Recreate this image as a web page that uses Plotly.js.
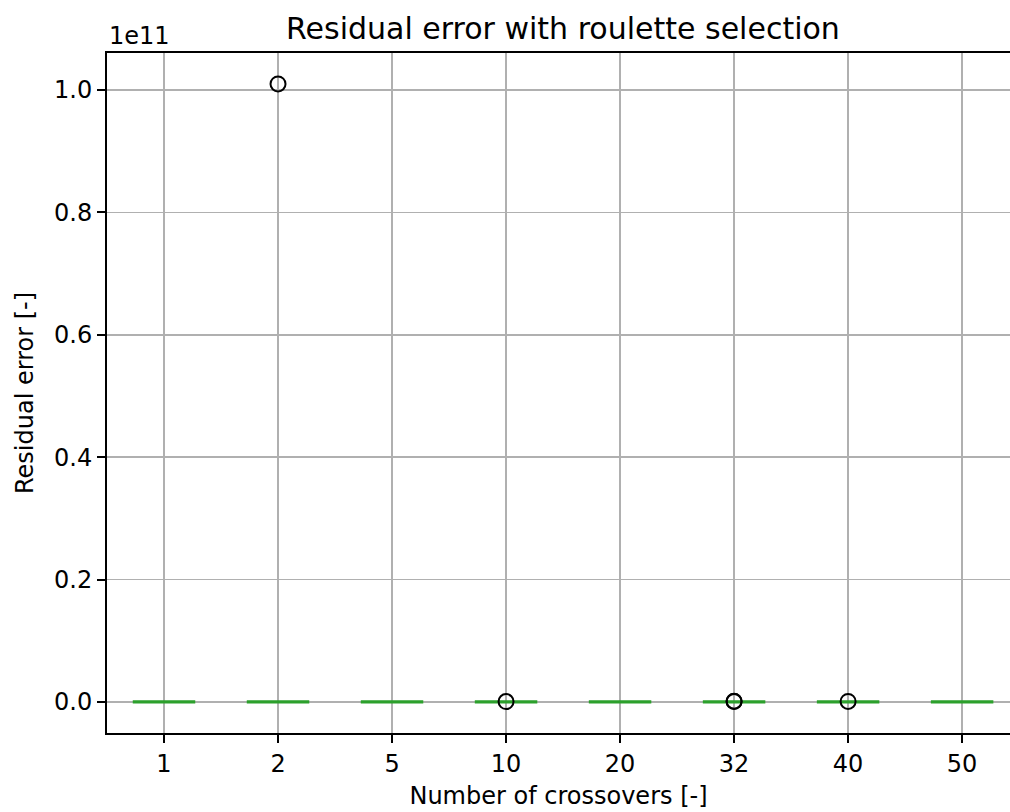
<!DOCTYPE html>
<html>
<head>
<meta charset="utf-8">
<script src="https://cdn.plot.ly/plotly-3.0.1.min.js"></script>
<style>
  html, body { margin: 0; padding: 0; background: #fff; }
  #chart { width: 1010px; height: 812px; }
</style>
</head>
<body>
<div id="chart"></div>
<script>
// Number of crossovers used in each run group
const crossovers = ['1', '2', '5', '10', '20', '32', '40', '50'];

// Box statistics of the residual error per group
const lowerWhisker = [1.1e5, 0.9e5, 1.3e5, 1.0e5, 1.2e5, 0.8e5, 1.1e5, 1.0e5];
const firstQuartile = [4.2e5, 3.8e5, 4.6e5, 4.0e5, 4.4e5, 3.5e5, 4.1e5, 4.3e5];
const medianError = [9.5e5, 8.7e5, 1.02e6, 9.1e5, 9.8e5, 8.2e5, 9.4e5, 9.9e5];
const thirdQuartile = [2.1e6, 1.9e6, 2.3e6, 2.0e6, 2.2e6, 1.8e6, 2.1e6, 2.2e6];
const upperWhisker = [4.8e6, 4.3e6, 5.1e6, 4.5e6, 4.9e6, 4.0e6, 4.6e6, 5.0e6];

// Outlying runs (group label, residual error)
const outlierGroup = ['2', '10', '32', '32', '40'];
const outlierError = [1.01e11, 6.0e7, 8.0e7, 1.3e8, 9.0e7];

// Y tick positions and their labels (values shown in units of 1e11)
const yTickVals = [0, 0.2e11, 0.4e11, 0.6e11, 0.8e11, 1.0e11];
const yTickText = ['0.0', '0.2', '0.4', '0.6', '0.8', '1.0'];

const green = '#2ca02c';
const font = 'DejaVu Sans, sans-serif';

const traces = crossovers.map((c, i) => ({
  type: 'box',
  x: [c],
  q1: [firstQuartile[i]],
  median: [medianError[i]],
  q3: [thirdQuartile[i]],
  lowerfence: [lowerWhisker[i]],
  upperfence: [upperWhisker[i]],
  width: 0.52,
  whiskerwidth: 0.5,
  fillcolor: 'rgba(0,0,0,0)',
  line: { color: green, width: 3.2 },
  boxpoints: false,
  hoverinfo: 'y',
  showlegend: false
}));

traces.push({
  type: 'scatter',
  mode: 'markers',
  x: outlierGroup,
  y: outlierError,
  marker: {
    symbol: 'circle-open',
    size: 15,
    color: '#000000',
    line: { color: '#000000', width: 2 }
  },
  showlegend: false,
  hoverinfo: 'x+y'
});

const layout = {
  width: 1010,
  height: 812,
  paper_bgcolor: '#ffffff',
  plot_bgcolor: '#ffffff',
  margin: { l: 107, r: 0, t: 53, b: 79 },
  font: { family: font, size: 24, color: '#000000' },
  title: {
    text: 'Residual error with roulette selection',
    font: { family: font, size: 30, color: '#000000' },
    x: 0.5574, xref: 'container', xanchor: 'center',
    y: 1 - 28 / 812, yref: 'container', yanchor: 'middle'
  },
  xaxis: {
    type: 'category',
    categoryorder: 'array',
    categoryarray: crossovers,
    range: [-0.5, 7.42],
    showgrid: true,
    gridcolor: '#b0b0b0',
    gridwidth: 1.8,
    showline: true,
    mirror: true,
    linecolor: '#000000',
    linewidth: 2,
    ticks: 'outside',
    ticklen: 8,
    tickwidth: 2,
    tickcolor: '#000000',
    tickfont: { family: font, size: 24, color: '#000000' },
    zeroline: false,
    title: {
      text: 'Number of crossovers [-]',
      font: { family: font, size: 24, color: '#000000' },
      standoff: 10
    }
  },
  yaxis: {
    range: [-0.0507e11, 1.0605e11],
    tickvals: yTickVals,
    ticktext: yTickText,
    showgrid: true,
    gridcolor: '#b0b0b0',
    gridwidth: 1.8,
    showline: true,
    linecolor: '#000000',
    linewidth: 2,
    ticks: 'outside',
    ticklen: 8,
    tickwidth: 2,
    tickcolor: '#000000',
    tickfont: { family: font, size: 24, color: '#000000' },
    zeroline: false,
    title: {
      text: 'Residual error [-]',
      font: { family: font, size: 24, color: '#000000' },
      standoff: 14
    }
  },
  annotations: [{
    text: '1e11',
    xref: 'paper', yref: 'paper',
    x: 0, y: 1,
    xanchor: 'left', yanchor: 'bottom',
    yshift: 1,
    showarrow: false,
    font: { family: font, size: 24, color: '#000000' }
  }]
};

Plotly.newPlot('chart', traces, layout, { displayModeBar: false, staticPlot: true });
</script>
</body>
</html>
